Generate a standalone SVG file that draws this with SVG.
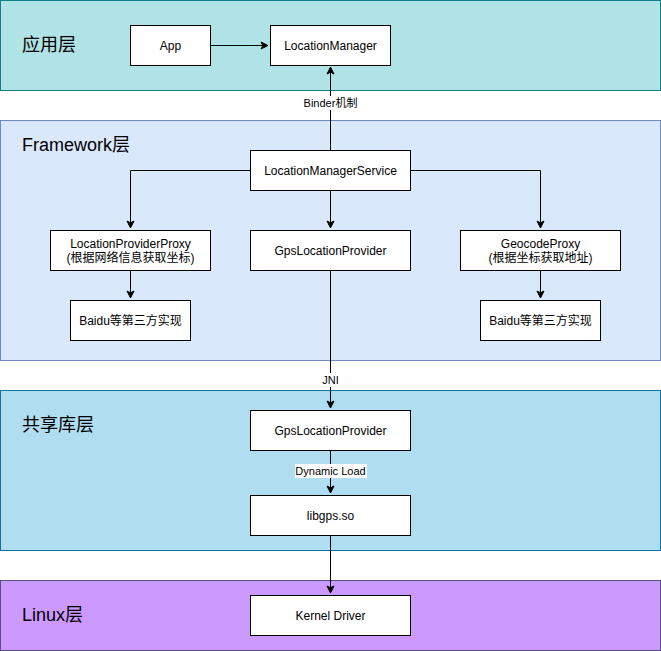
<svg xmlns="http://www.w3.org/2000/svg" width="661" height="651" viewBox="0 0 661 651">
<defs>
<marker id="arr" markerWidth="10" markerHeight="10" refX="8" refY="5" orient="auto" markerUnits="userSpaceOnUse">
<path d="M1,1.5 L8,5 L1,8.5 L2.8,5 Z" fill="#000" stroke="#000" stroke-width="1"/>
</marker>
<style>
.node rect{fill:#fff;stroke:#000;stroke-width:1}
.node text{font-family:"Liberation Sans",Arial,"Noto Sans CJK SC",sans-serif;font-size:12px;fill:#000;text-anchor:middle}
.layer text{font-family:"Liberation Sans",Arial,"Noto Sans CJK SC",sans-serif;font-size:18px;fill:#000}
.edges path{fill:none;stroke:#000;stroke-width:1;marker-end:url(#arr)}
.lbl{font-family:"Liberation Sans",Arial,"Noto Sans CJK SC",sans-serif;font-size:11px;fill:#000;text-anchor:middle}
</style>
</defs>
<g id="layer-app" class="layer">
<rect x="0.5" y="0.5" width="660" height="90" fill="#b0e3e6" stroke="#0e8088"/>
<text x="22" y="51">应用层</text>
</g>
<g id="layer-framework" class="layer">
<rect x="0.5" y="120.5" width="660" height="240" fill="#dae8fc" stroke="#6c8ebf"/>
<text x="22" y="151">Framework层</text>
</g>
<g id="layer-lib" class="layer">
<rect x="0.5" y="390.5" width="660" height="160" fill="#b1ddf0" stroke="#10739e"/>
<text x="22" y="431">共享库层</text>
</g>
<g id="layer-linux" class="layer">
<rect x="0.5" y="580.5" width="660" height="70" fill="#cc99ff" stroke="#56517e"/>
<text x="22" y="621">Linux层</text>
</g>
<g id="edges" class="edges">
<path d="M210.5,45.5 L268,45.5"/>
<path d="M330.5,150 L330.5,67"/>
<path d="M250,170.5 L130.5,170.5 L130.5,228"/>
<path d="M330.5,190 L330.5,228"/>
<path d="M410,170.5 L540.5,170.5 L540.5,228"/>
<path d="M130.5,270 L130.5,298"/>
<path d="M540.5,270 L540.5,298"/>
<path d="M330.5,270 L330.5,408"/>
<path d="M330.5,450 L330.5,493"/>
<path d="M330.5,535 L330.5,593"/>
</g>
<g id="edge-labels">
<rect x="302" y="96" width="57" height="14" fill="#fff"/>
<text class="lbl" x="330.5" y="107">Binder机制</text>
<rect x="321" y="373" width="20" height="14" fill="#fff"/>
<text class="lbl" x="330.5" y="384">JNI</text>
<rect x="295" y="464" width="72" height="14" fill="#fff"/>
<text class="lbl" x="330.5" y="475">Dynamic Load</text>
</g>
<g id="app" class="node"><rect x="130.5" y="25.5" width="80" height="40"/><text x="170.5" y="50">App</text></g>
<g id="locationmanager" class="node"><rect x="270.5" y="25.5" width="120" height="40"/><text x="330.5" y="50">LocationManager</text></g>
<g id="lms" class="node"><rect x="250.5" y="150.5" width="160" height="40"/><text x="330.5" y="175">LocationManagerService</text></g>
<g id="lpp" class="node"><rect x="50.5" y="230.5" width="160" height="40"/><text x="130.5" y="248">LocationProviderProxy</text><text x="130.5" y="262">(根据网络信息获取坐标)</text></g>
<g id="glp" class="node"><rect x="250.5" y="230.5" width="160" height="40"/><text x="330.5" y="255">GpsLocationProvider</text></g>
<g id="geocode" class="node"><rect x="460.5" y="230.5" width="160" height="40"/><text x="540.5" y="248">GeocodeProxy</text><text x="540.5" y="262">(根据坐标获取地址)</text></g>
<g id="baidu1" class="node"><rect x="70.5" y="300.5" width="120" height="40"/><text x="130.5" y="325">Baidu等第三方实现</text></g>
<g id="baidu2" class="node"><rect x="480.5" y="300.5" width="120" height="40"/><text x="540.5" y="325">Baidu等第三方实现</text></g>
<g id="glp-native" class="node"><rect x="250.5" y="410.5" width="160" height="40"/><text x="330.5" y="435">GpsLocationProvider</text></g>
<g id="libgps" class="node"><rect x="250.5" y="495.5" width="160" height="40"/><text x="330.5" y="520">libgps.so</text></g>
<g id="kernel" class="node"><rect x="250.5" y="595.5" width="160" height="40"/><text x="330.5" y="620">Kernel Driver</text></g>
</svg>
